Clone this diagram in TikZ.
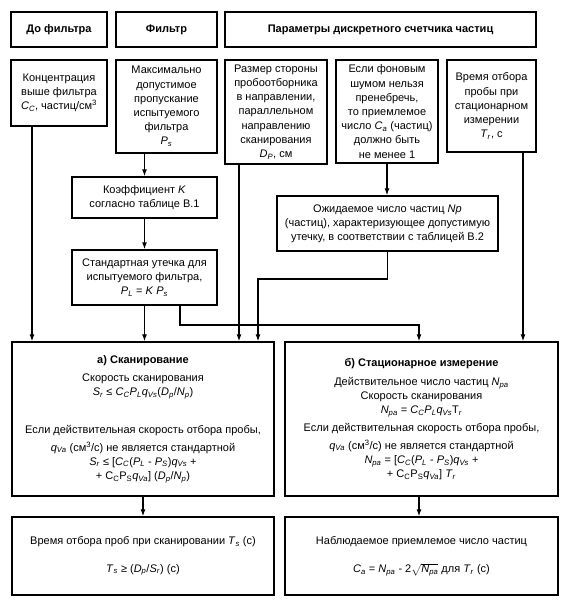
\documentclass[tikz,border=0pt]{standalone}
\usepackage{fontspec}
\setmainfont{Liberation Sans}
\usetikzlibrary{arrows.meta}
\newcommand{\vsub}[2]{\textit{#1}\textsubscript{\textit{#2}}}
\tikzset{
	box/.style={draw, line width=1.5pt, align=center, inner sep=1pt,
		font=\fontsize{11}{14.2}\selectfont},
	head/.style={box, font=\fontsize{11}{14.2}\selectfont\bfseries},
	conn/.style={->, line width=1.1pt}
}
\begin{document}
\begin{tikzpicture}[x=1pt,y=-1pt,>={Latex[length=7pt,width=5pt]}]
	\useasboundingbox (0,0) rectangle (566,602);

	% header row
	\node [head, minimum width=96, minimum height=35] (hdo) at (59, 29.5) {До фильтра};
	\node [head, minimum width=101, minimum height=35] (hfil) at (166.5, 29.5) {Фильтр};
	\node [head, minimum width=311, minimum height=35] (hpar) at (380.5, 29.5) {Параметры дискретного счетчика частиц};

	% input values
	\node [box, minimum width=96, minimum height=66] (conc) at (59, 93)
		{Концентрация\\выше фильтра\\\vsub{C}{C}, частиц/см\textsuperscript{3}};
	\node [box, minimum width=101, minimum height=93] (maxp) at (166.5, 106.5)
		{Максимально\\допустимое\\пропускание\\испытуемого\\фильтра\\\vsub{P}{s}};
	\node [box, minimum width=102, minimum height=104] (size) at (276, 112)
		{Размер стороны\\пробоотборника\\в направлении,\\параллельном\\направлению\\сканирования\\\vsub{D}{P}, см};
	\node [box, minimum width=102, minimum height=103] (noise) at (387, 111.5)
		{Если фоновым\\шумом нельзя\\пренебречь,\\то приемлемое\\число \vsub{C}{a} (частиц)\\должно быть\\не менее 1};
	\node [box, minimum width=89, minimum height=92] (time) at (491.5, 106)
		{Время отбора\\пробы при\\стационарном\\измерении\\\vsub{T}{r}, с};

	\node [box, minimum width=145, minimum height=41] (koef) at (144.5, 197.5)
		{Коэффициент \textit{K}\\согласно таблице В.1};
	\node [box, minimum width=221, minimum height=55] (exp) at (387.5, 223.5)
		{Ожидаемое число частиц \textit{Np}\\(частиц), характеризующее допустимую\\утечку, в соответствии с таблицей В.2};
	\node [box, minimum width=145, minimum height=55] (std) at (144.5, 277.5)
		{Стандартная утечка для\\испытуемого фильтра,\\\vsub{P}{L} = \textit{K} \vsub{P}{s}};

	% calculation
	\node [box, minimum width=262, minimum height=154] (scan) at (143, 419)
		{\textbf{а) Сканирование}\\[4pt]
		Скорость сканирования\\
		\vsub{S}{r} ≤ \vsub{C}{C}\vsub{P}{L}\vsub{q}{Vs}(\vsub{D}{p}/\vsub{N}{p})\\[24pt]
		Если действительная скорость отбора пробы,\\[3pt]
		\vsub{q}{Va} (см\textsuperscript{3}/с) не является стандартной\\
		\vsub{S}{r} ≤ [\vsub{C}{C}(\vsub{P}{L} - \vsub{P}{S})\vsub{q}{Vs} +\\
		+ C\textsubscript{C}P\textsubscript{S}\vsub{q}{Va}] (\vsub{D}{p}/\vsub{N}{p})};
	\node [box, minimum width=273, minimum height=154] (stat) at (421.5, 419)
		{\textbf{б) Стационарное измерение}\\[5pt]
		Действительное число частиц \vsub{N}{pa}\\
		Скорость сканирования\\
		\vsub{N}{pa} = \vsub{C}{C}\vsub{P}{L}\vsub{q}{Vs}T\textsubscript{\textit{r}}\\[4pt]
		Если действительная скорость отбора пробы,\\[3pt]
		\vsub{q}{Va} (см\textsuperscript{3}/с) не является стандартной\\
		\vsub{N}{pa} = [\vsub{C}{C}(\vsub{P}{L} - \vsub{P}{S})\vsub{q}{Vs} +\\
		+ C\textsubscript{C}P\textsubscript{S}\vsub{q}{Va}] \vsub{T}{r}};

	% results
	\node [box, minimum width=262, minimum height=78] (tsc) at (143, 556)
		{Время отбора проб при сканировании \vsub{T}{s} (с)\\[13pt]
		\vsub{T}{s} ≥ (\vsub{D}{p}/\vsub{S}{r}) (с)};
	\node [box, minimum width=273, minimum height=78] (nobs) at (421.5, 556)
		{Наблюдаемое приемлемое число частиц\\[14pt]
		\vsub{C}{a} = \vsub{N}{pa} - 2$\sqrt{\mbox{\vsub{N}{pa}}}$ для \vsub{T}{r} (с)};

	\coordinate (xconc) at (32, 0);
	\coordinate (xsize) at (239, 0);
	\coordinate (xstd) at (180, 0);
	\coordinate (xtime) at (523, 0);
	\coordinate (jexp) at (258, 279);
	\coordinate (jstd) at (419, 325);

	\draw [conn] (maxp.south -| koef.north) -- (koef.north);
	\draw [conn] (koef.south) -- (std.north);
	\draw [conn] (noise.south) -- (noise.south |- exp.north);

	\draw [conn] (conc.south -| xconc) -- (scan.north -| xconc);
	\draw [conn] (std.south) -- (std.south |- scan.north);
	\draw [conn] (size.south -| xsize) -- (scan.north -| xsize);
	\draw [conn] (exp.south) |- (jexp) -- (jexp |- scan.north);
	\draw [conn] (std.south -| xstd) |- (jstd) -- (jstd |- stat.north);
	\draw [conn] (time.south -| xtime) -- (stat.north -| xtime);

	\draw [conn] (scan.south) -- (tsc.north);
	\draw [conn] (stat.south -| jstd) -- (nobs.north -| jstd);

\end{tikzpicture}
\end{document}
